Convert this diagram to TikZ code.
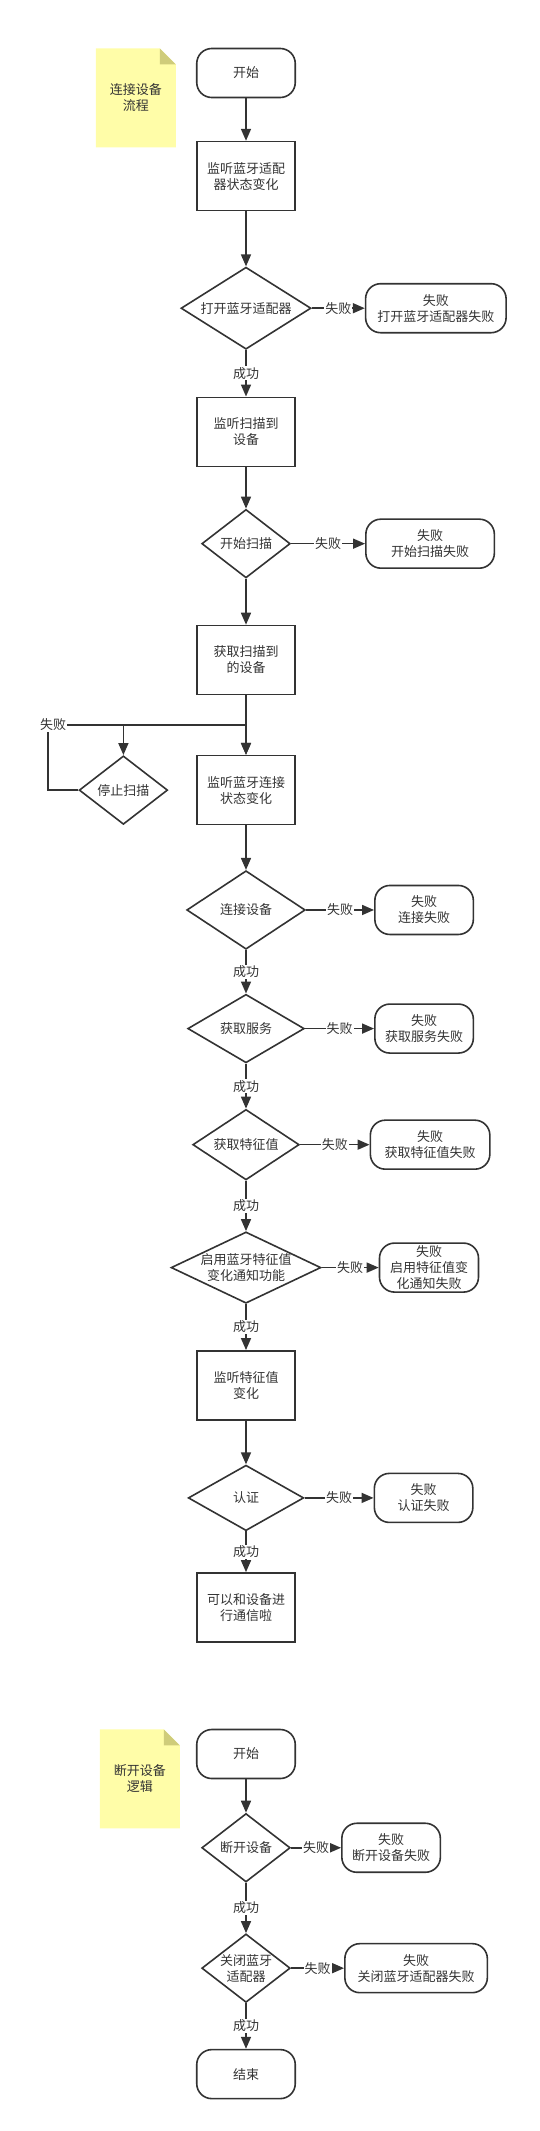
\documentclass[tikz,border=0pt]{standalone}
\usepackage{fontspec}
\setmainfont{Noto Sans CJK SC}
\usetikzlibrary{positioning, shapes.geometric, arrows.meta}
\definecolor{ink}{HTML}{333333}
\definecolor{notefill}{HTML}{FFFDA8}
\definecolor{notefold}{HTML}{CFCC7A}
\tikzset{
	base/.style={draw=ink, line width=1.6pt, text=ink, align=center, font=\fontsize{13}{16}\selectfont},
	term/.style={base, rectangle, rounded corners=15pt, inner sep=2pt, minimum width=#1, minimum height=49pt},
	term/.default=98.5pt,
	proc/.style={base, rectangle, minimum width=98.5pt, minimum height=69pt},
	dec/.style 2 args={base, diamond, inner sep=0pt, aspect=1.3, minimum width=#1, minimum height=#2},
	arr/.style={draw=ink, line width=1.6pt, -{Triangle[length=12pt, width=10pt]}},
	lbl/.style={fill=white, text=ink, inner sep=1pt, font=\fontsize{13}{16}\selectfont},
	memo/.style={minimum width=80pt, minimum height=99pt, text=ink, align=center, font=\fontsize{13}{16}\selectfont,
		path picture={
			\fill[notefill] (path picture bounding box.south west)--(path picture bounding box.north west)--([xshift=-16pt]path picture bounding box.north east)--([yshift=-16pt]path picture bounding box.north east)--(path picture bounding box.south east)--cycle;
			\fill[notefold] ([xshift=-16pt]path picture bounding box.north east)--([xshift=-16pt,yshift=-16pt]path picture bounding box.north east)--([yshift=-16pt]path picture bounding box.north east)--cycle;
		}},
}
\begin{document}
\begin{tikzpicture}[x=1pt, y=-1pt]
	\useasboundingbox (0,0) rectangle (539,2131);
	\draw node (start1)[term] at (246,73){开始};
	\draw node (note1)[memo, below left=0.5pt and 20pt of start1.north west]{连接设备\\流程};
	\draw node (box1)[proc, below=42.5pt of start1]{监听蓝牙适配\\器状态变化};
	\draw node (dia1)[dec={130pt}{79pt}, below=55pt of box1]{打开蓝牙适配器};
	\draw node (fail1)[term=140.5pt, right=53pt of dia1]{失败\\打开蓝牙适配器失败};
	\draw node (box2)[proc, below=46.5pt of dia1]{监听扫描到\\设备};
	\draw node (dia2)[dec={88.5pt}{68.5pt}, below=41.5pt of box2]{开始扫描};
	\draw node (fail2)[term=128.5pt, right=74pt of dia2]{失败\\开始扫描失败};
	\draw node (box3)[proc, below=46pt of dia2]{获取扫描到\\的设备};
	\draw node (box4)[proc, below=59.5pt of box3]{监听蓝牙连接\\状态变化};
	\draw node (stop)[dec={88.5pt}{68.5pt}, left=27.5pt of box4]{停止扫描};
	\coordinate[below=29.7pt of box3] (fork);
	\coordinate[left=198.3pt of fork] (loop);
	\draw node (dia3)[dec={118.5pt}{78.5pt}, below=44.5pt of box4]{连接设备};
	\draw node (fail3)[term, right=68pt of dia3]{失败\\连接失败};
	\draw node (dia4)[dec={116.5pt}{68.5pt}, below=43.5pt of dia3]{获取服务};
	\draw node (fail4)[term, right=69pt of dia4]{失败\\获取服务失败};
	\draw node (dia5)[dec={106.5pt}{70.5pt}, below=45pt of dia4]{获取特征值};
	\draw node (fail5)[term=119.5pt, right=69.5pt of dia5]{失败\\获取特征值失败};
	\draw node (dia6)[dec={147pt}{68pt}, aspect=2.1, below=50.4pt of dia5]{启用蓝牙特征值\\变化通知功能};
	\draw node (fail6)[term=99pt, right=57pt of dia6]{失败\\启用特征值变\\化通知失败};
	\draw node (box5)[proc, below=46pt of dia6]{监听特征值\\变化};
	\draw node (dia7)[dec={115.5pt}{65.5pt}, below=43.7pt of box5]{认证};
	\draw node (fail7)[term, right=69pt of dia7]{失败\\认证失败};
	\draw node (box6)[proc, below=40.7pt of dia7]{可以和设备进\\行通信啦};
	\draw node (start2)[term] at (246,1754){开始};
	\draw node (note2)[memo, below left=0.5pt and 16pt of start2.north west]{断开设备\\逻辑};
	\draw node (dia8)[dec={88.5pt}{68.5pt}, below=33.4pt of start2]{断开设备};
	\draw node (fail8)[term, right=50pt of dia8]{失败\\断开设备失败};
	\draw node (dia9)[dec={88.5pt}{68.5pt}, below=50.3pt of dia8]{关闭蓝牙\\适配器};
	\draw node (fail9)[term=142.5pt, right=53pt of dia9]{失败\\关闭蓝牙适配器失败};
	\draw node (finish)[term, below=45.6pt of dia9]{结束};
	\draw[arr] (start1)--(box1);
	\draw[arr] (box1)--(dia1);
	\draw[arr] (dia1)--node[lbl]{失败}(fail1);
	\draw[arr] (dia1)--node[lbl]{成功}(box2);
	\draw[arr] (box2)--(dia2);
	\draw[arr] (dia2)--node[lbl]{失败}(fail2);
	\draw[arr] (dia2)--(box3);
	\draw[arr] (box3)--(box4);
	\draw[arr] (fork)-|(stop);
	\draw[arr] (stop.west)-|(loop) node[lbl, xshift=5.5pt]{失败}--(fork)--(box4);
	\draw[arr] (box4)--(dia3);
	\draw[arr] (dia3)--node[lbl]{失败}(fail3);
	\draw[arr] (dia3)--node[lbl]{成功}(dia4);
	\draw[arr] (dia4)--node[lbl]{失败}(fail4);
	\draw[arr] (dia4)--node[lbl]{成功}(dia5);
	\draw[arr] (dia5)--node[lbl]{失败}(fail5);
	\draw[arr] (dia5)--node[lbl]{成功}(dia6);
	\draw[arr] (dia6)--node[lbl]{失败}(fail6);
	\draw[arr] (dia6)--node[lbl]{成功}(box5);
	\draw[arr] (box5)--(dia7);
	\draw[arr] (dia7)--node[lbl]{失败}(fail7);
	\draw[arr] (dia7)--node[lbl]{成功}(box6);
	\draw[arr] (start2)--(dia8);
	\draw[arr] (dia8)--node[lbl]{失败}(fail8);
	\draw[arr] (dia8)--node[lbl]{成功}(dia9);
	\draw[arr] (dia9)--node[lbl]{失败}(fail9);
	\draw[arr] (dia9)--node[lbl]{成功}(finish);
\end{tikzpicture}
\end{document}
